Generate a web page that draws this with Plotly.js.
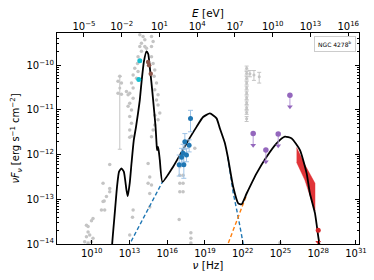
<!DOCTYPE html>
<html><head><meta charset="utf-8">
<script src="https://cdn.plot.ly/plotly-3.0.1.min.js"></script>
<style>body{margin:0;background:#fff}#c{width:374px;height:280px}</style>
</head><body><div id="c"></div>
<script>
// ---- data (log10 units: nu in Hz, nuFnu in erg s^-1 cm^-2) ----
const modelLogNu = [11.58,11.62,11.83,12.01,12.17,12.36,12.55,12.76,12.86,13.02,13.16,13.34,13.52,13.68,13.82,13.95,14.14,14.35,14.49,14.61,14.75,14.88,15.07,15.15,15.19,15.27,15.35,15.41,15.62,16.47,17.53,18.33,18.85,19.39,19.92,20.18,20.58,20.82,21.24,21.64,21.91,22.31,23.10,23.90,24.69,25.35,25.89,26.55,27.08,27.34,27.74,28.00,28.08,28.14];
const modelLogF  = [-14.4,-14.02,-13.31,-12.72,-12.38,-12.31,-12.38,-12.79,-12.93,-12.64,-12.20,-11.68,-11.38,-11.07,-10.78,-10.40,-9.93,-9.69,-9.75,-10.03,-10.40,-10.78,-11.37,-11.74,-11.90,-11.83,-11.97,-12.12,-12.61,-12.27,-11.75,-11.38,-11.16,-11.08,-11.19,-11.41,-11.74,-12.06,-12.72,-13.09,-13.11,-12.87,-12.42,-12.05,-11.75,-11.60,-11.64,-11.90,-12.42,-12.87,-13.31,-13.83,-13.98,-14.3];

const synLogNu = [12.90,13.02,15.62,null,20.82,21.24,21.64,22.04,22.12];
const synLogF  = [-14.07,-14.0,-12.61,null,-12.06,-12.85,-13.40,-14.0,-14.12];

const icLogNu = [20.76,20.84,21.50,22.17,22.31];
const icLogF  = [-14.12,-13.99,-13.50,-13.02,-12.90];

const grayLogNu = [11.43,10.90,11.43,11.43,11.17,10.90,10.99,10.77,11.03,10.10,9.98,9.58,9.71,9.71,9.84,10.10,9.58,9.98,9.44,9.71,
 13.82,14.08,14.22,13.95,13.82,14.22,14.35,13.95,14.75,14.88,14.75,13.68,13.64,13.42,13.68,13.29,13.56,13.16,13.29,13.02,13.29,13.02,13.16,13.02,13.16,13.02,13.16,12.76,12.89,12.89,
 14.75,14.88,15.01,14.96,15.15,15.01,15.27,15.15,15.27,15.41,15.27,15.01,15.01,14.88,14.75,
 12.23,12.09,12.36,12.09,12.36,13.02,13.29,13.24,14.61,14.75,14.61,14.61,13.02,14.48,14.48,
 17.00,17.00,17.00,17.00,17.26,17.26,17.26,16.95,17.88,17.88,17.88,18.19,24.96];
const grayLogF = [-12.22,-12.64,-12.76,-12.83,-12.94,-13.05,-13.04,-13.24,-13.24,-13.43,-13.48,-13.58,-13.61,-13.73,-13.80,-13.87,-13.84,-13.95,-13.95,-13.98,
 -9.32,-9.36,-9.43,-9.51,-9.58,-9.58,-9.62,-9.69,-9.36,-9.47,-9.58,-9.81,-9.96,-10.07,-10.14,-10.22,-10.29,-10.40,-10.51,-10.63,-10.74,-10.85,-11.00,-11.15,-11.30,-11.45,-11.59,-10.59,-10.66,-10.92,
 -9.81,-9.96,-10.11,-10.25,-10.40,-10.55,-10.66,-10.78,-10.89,-11.07,-11.22,-11.12,-11.34,-11.45,-11.60,
 -10.25,-10.36,-10.40,-10.63,-10.65,-11.61,-13.24,-13.40,-12.50,-12.68,-12.87,-13.17,-13.80,-12.20,-12.64,
 -12.27,-12.46,-12.64,-12.83,-12.46,-12.64,-12.83,-13.45,-13.75,-13.87,-13.98,-11.86,-13.97];

// gray points with error bars
const grayErrLogNu = [12.23,22.31,22.31,22.31,22.31,22.31,22.31,22.31,22.31,22.31,22.31,22.31,22.57,22.89,23.31];
const grayErrLogF  = [-10.51,-10.07,-10.18,-10.29,-10.40,-10.51,-10.62,-10.73,-10.84,-10.95,-11.06,-11.20,-10.19,-10.22,-10.26];
const grayErrUp    = [0.26,0.05,0.04,0.04,0.04,0.04,0.04,0.04,0.04,0.04,0.04,0.05,0.07,0.10,0.10];
const grayErrDn    = [1.37,0.04,0.04,0.04,0.04,0.04,0.04,0.04,0.04,0.04,0.04,0.06,0.07,0.12,0.14];

const xrayLogNu = [17.85,17.40,17.74,17.26,17.53,17.14,16.95,17.32];
const xrayLogF  = [-11.19,-11.71,-11.79,-11.97,-12.01,-12.06,-12.23,-12.23];
const xrayErrUp = [0.18,0.18,0.12,0.20,0.15,0.20,0.22,0.28];
const xrayErrDn = [0.30,0.18,0.15,0.20,0.15,0.20,0.25,0.30];

const cyanLogNu = [13.82,13.74];
const cyanLogF  = [-9.90,-10.32];
const brownLogNu = [14.48,14.56,14.69];
const brownLogF  = [-9.93,-10.00,-10.19];

const ulLogNu = [25.75,22.83,24.82,23.84];
const ulLogF  = [-10.67,-11.53,-11.54,-11.90];

const bowLogNu = [26.28,26.94,27.74,27.74,26.94,26.28];
const bowLogF  = [-11.84,-12.23,-12.64,-13.26,-12.57,-12.17];

const redLogNu = [28.00];
const redLogF  = [-13.69];
const redUlLogNu = [28.00];
const redUlLogF  = [-13.96];

const xTicks = [10,13,16,19,22,25,28,31];
const eTicks = [-5,-2,1,4,7,10,13,16];
const yTicks = [-14,-13,-12,-11,-10];

// ---- helpers ----
const P = v => (v === null ? null : Math.pow(10, v));
const L = a => a.map(P);
const sup = n => '10<sup>' + (n < 0 ? '\u2212' + (-n) : n) + '</sup>';
const logH = Math.log10(4.135667e-15);
const xr = [7.24, 31.24];
const yr = [-14, -9.28];

const ulTipLogF = ulLogF.map(v => v - 0.26);
const ulLx = [], ulLy = [];
ulLogNu.forEach((n, i) => { ulLx.push(P(n), P(n), null); ulLy.push(P(ulLogF[i]), P(ulTipLogF[i]), null); });

const errs = (f, up, dn) => ({ type:'data', symmetric:false,
  array: f.map((v,i)=>P(v+up[i])-P(v)), arrayminus: f.map((v,i)=>P(v)-P(v-dn[i])) });

const gray = '#c4c4c4';
const traces = [
  {x:L(grayLogNu), y:L(grayLogF), mode:'markers', type:'scatter', marker:{color:gray, size:3.5}, hoverinfo:'none'},
  {x:L(grayErrLogNu), y:L(grayErrLogF), mode:'markers', type:'scatter', marker:{color:gray, size:3},
   error_y:Object.assign(errs(grayErrLogF, grayErrUp, grayErrDn), {color:gray, thickness:1, width:2})},
  {x:L(bowLogNu), y:L(bowLogF), mode:'lines', fill:'toself', fillcolor:'rgba(222,30,34,0.9)', line:{width:0.5, color:'rgba(222,30,34,0.9)'}},
  {x:L(synLogNu), y:L(synLogF), mode:'lines', line:{color:'#1f77b4', width:1.4, dash:'4px,2.5px'}, connectgaps:false},
  {x:L(icLogNu), y:L(icLogF), mode:'lines', line:{color:'#ff7f0e', width:1.4, dash:'4px,2.5px'}},
  {x:L(modelLogNu), y:L(modelLogF), mode:'lines', line:{color:'#000', width:1.8, shape:'spline', smoothing:0.5}},
  {x:L(xrayLogNu), y:L(xrayLogF), mode:'markers', marker:{color:'#1f77b4', size:5},
   error_y:Object.assign(errs(xrayLogF, xrayErrUp, xrayErrDn), {color:'#9ec3e6', thickness:1, width:2.5})},
  {x:L(cyanLogNu), y:L(cyanLogF), mode:'markers', marker:{color:'#17becf', size:5}},
  {x:L(brownLogNu), y:L(brownLogF), mode:'markers', marker:{color:'#8c564b', size:4.5}},
  {x:ulLx, y:ulLy, mode:'lines', line:{color:'#b79bd6', width:1}},
  {x:L(ulLogNu), y:L(ulLogF), mode:'markers', marker:{color:'#9467bd', size:5.5}},
  {x:L(ulLogNu), y:L(ulTipLogF), mode:'markers', marker:{color:'#9467bd', size:5, symbol:'triangle-down'}},
  {x:L(redLogNu), y:L(redLogF), mode:'markers', marker:{color:'#d62728', size:5}},
  {x:L(redUlLogNu), y:L(redUlLogF), mode:'markers', marker:{color:'#d62728', size:5, symbol:'triangle-down'}},
  {x:[P(eTicks[0])], y:[P(-12)], xaxis:'x2', mode:'markers', marker:{opacity:0}, hoverinfo:'none'}
];

const minorY = [];
for (let d = -14; d <= -10; d++) for (let m = 2; m <= 9; m++) minorY.push(m * Math.pow(10, d));

const fnt = {family:'DejaVu Sans, sans-serif', size:10, color:'#000'};
const layout = {
  width:374, height:280, showlegend:false,
  margin:{l:57, r:15, t:33, b:36},
  paper_bgcolor:'#fff', plot_bgcolor:'#fff', font:fnt,
  xaxis:{type:'log', range:xr, tickmode:'array', tickvals:L(xTicks), ticktext:xTicks.map(sup),
    ticks:'inside', ticklen:4, tickcolor:'#000', showline:true, linecolor:'#000', linewidth:1, mirror:true,
    showgrid:false, zeroline:false, tickfont:fnt,
    title:{text:'<i>ν</i> [Hz]', font:{family:'DejaVu Sans, sans-serif', size:10.5}, standoff:2}},
  xaxis2:{type:'log', overlaying:'x', side:'top', range:[xr[0]+logH, xr[1]+logH], tickmode:'array',
    tickvals:L(eTicks), ticktext:eTicks.map(sup), ticks:'inside', ticklen:4, tickcolor:'#000',
    showline:false, showgrid:false, zeroline:false, tickfont:fnt,
    title:{text:'<i>E</i> [eV]', font:{family:'DejaVu Sans, sans-serif', size:10.5}, standoff:0}},
  yaxis:{type:'log', range:yr, tickmode:'array', tickvals:L(yTicks), ticktext:yTicks.map(sup),
    ticks:'inside', ticklen:4, tickcolor:'#000', showline:true, linecolor:'#000', linewidth:1, mirror:'ticks',
    showgrid:false, zeroline:false, tickfont:fnt,
    minor:{tickmode:'array', tickvals:minorY, ticks:'inside', ticklen:2, tickcolor:'#000', showgrid:false},
    title:{text:'<i>νF<sub>ν</sub></i> [erg s<sup>−1</sup> cm<sup>−2</sup>]', font:{family:'DejaVu Sans, sans-serif', size:10}, standoff:4}},
  annotations:[{xref:'paper', yref:'paper', x:0.92, y:0.95, xanchor:'center', yanchor:'middle',
    text:'NGC 4278<sup>b</sup>', showarrow:false, font:{family:'DejaVu Sans, sans-serif', size:6, color:'#000'},
    bordercolor:'#cccccc', borderwidth:1, borderpad:3, bgcolor:'#fff'}]
};
Plotly.newPlot('c', traces, layout, {staticPlot:true, displayModeBar:false});
</script></body></html>
